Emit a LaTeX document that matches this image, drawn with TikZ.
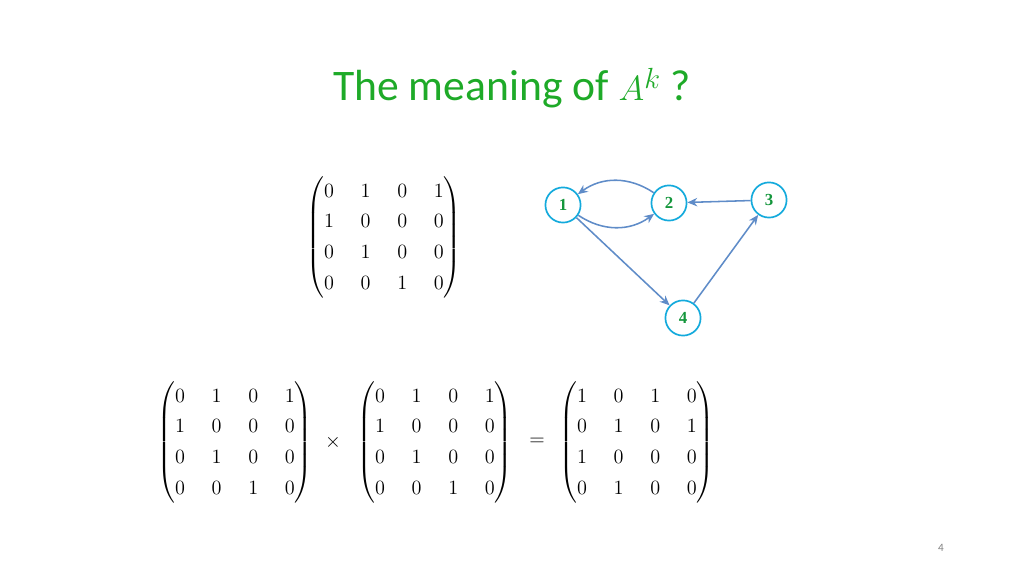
\documentclass[tikz,border=0pt]{standalone}
\usepackage{amsmath}
\usepackage{fontspec}
\setmainfont{Carlito}
\newfontfamily\nodeserif{Liberation Serif}
\definecolor{tgreen}{RGB}{30,170,40}
\definecolor{ncyan}{RGB}{20,170,220}
\definecolor{eblue}{RGB}{95,140,200}
\definecolor{ngreen}{RGB}{20,150,60}
\usetikzlibrary{arrows.meta}
\tikzset{
 vert/.style={circle,draw=ncyan,line width=1.2pt,minimum size=25pt,inner sep=0pt,font=\nodeserif\bfseries\fontsize{12}{14}\selectfont,text=ngreen},
 edge/.style={draw=eblue,line width=1.1pt,-{Stealth[length=7pt,width=6pt]}},
 mat/.style={inner sep=0pt,font=\fontsize{15}{19}\selectfont}
}
\newcommand{\mymat}[1]{$\setlength{\arraycolsep}{9.5pt}\renewcommand{\arraystretch}{1.15}\begin{pmatrix}#1\end{pmatrix}$}
\begin{document}
\begin{tikzpicture}[x=0.025cm,y=-0.025cm]
\useasboundingbox (0,0) rectangle (1024,576);
\node[text=tgreen,font=\fontsize{31}{35}\selectfont] (title) at (512,88) {The meaning of $A^{k}$ ?};
\node[mat] (m0) at (384,237) {\mymat{0&1&0&1\\1&0&0&0\\0&1&0&0\\0&0&1&0}};
\node[vert] (n1) at (563,205) {1};
\node[vert] (n2) at (669,203) {2};
\node[vert] (n3) at (769,200) {3};
\node[vert] (n4) at (683,318) {4};
\draw[edge] (n2) to[bend right=35] (n1);
\draw[edge] (n1) to[bend right=35] (n2);
\draw[edge] (n3) -- (n2);
\draw[edge] (n1) -- (n4);
\draw[edge] (n4) -- (n3);
\node[mat] (a) at (235,442) {\mymat{0&1&0&1\\1&0&0&0\\0&1&0&0\\0&0&1&0}};
\node[mat] (b) at (435,442) {\mymat{0&1&0&1\\1&0&0&0\\0&1&0&0\\0&0&1&0}};
\node[mat] (c) at (637,442) {\mymat{1&0&1&0\\0&1&0&1\\1&0&0&0\\0&1&0&0}};
\node[mat] (times) at (333,442) {$\times$};
\node[mat] (eq) at (537,442) {$=$};
\node[text=gray,font=\fontsize{8}{10}\selectfont] (pg) at (941,548) {4};
\end{tikzpicture}
\end{document}
